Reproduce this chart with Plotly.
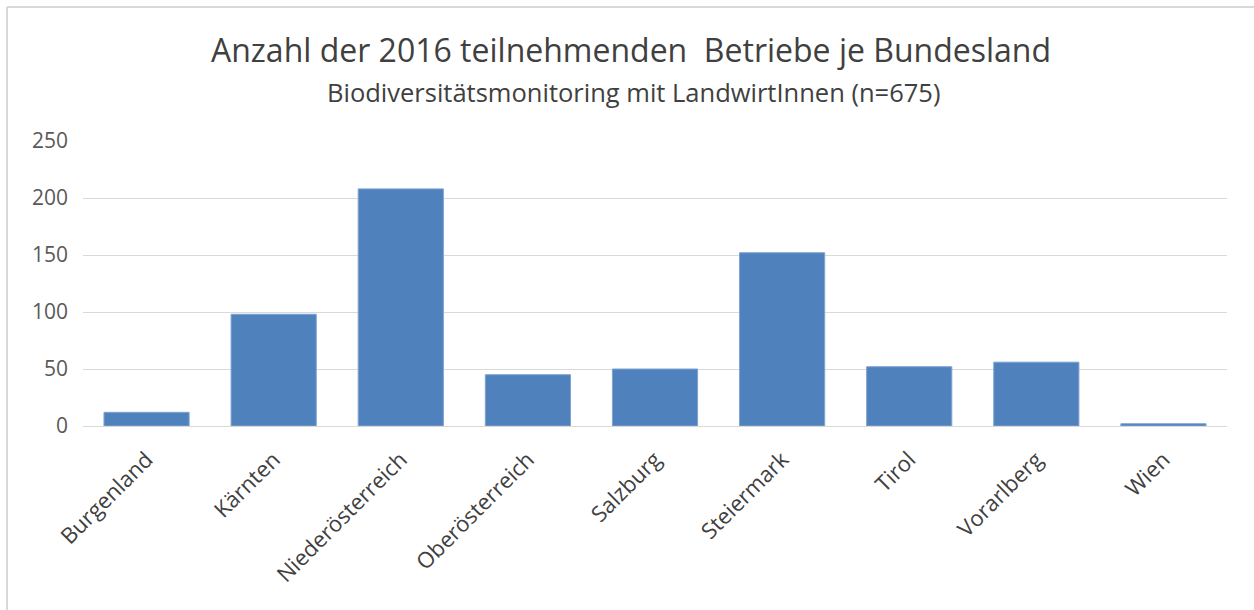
import plotly.graph_objects as go

categories = ["Burgenland", "Kärnten", "Niederösterreich", "Oberösterreich", "Salzburg",
              "Steiermark", "Tirol", "Vorarlberg", "Wien"]
values = [12, 98, 208, 45, 50, 152, 52, 56, 2]
y_ticks = [0, 50, 100, 150, 200, 250]

title_text = "Anzahl der 2016 teilnehmenden  Betriebe je Bundesland"
subtitle_text = "Biodiversitätsmonitoring mit LandwirtInnen (n=675)"

W, H = 1254, 610
L, R, T, B = 83, 27, 141, 184
pw, ph = W - L - R, H - T - B

def px(x):
    return (x - L) / pw

def py(y):
    return (H - B - y) / ph

fig = go.Figure(go.Bar(
    x=categories, y=values,
    marker=dict(color="#4f81bd", line=dict(color="#7ea3d1", width=1)),
))

font_family = "'Open Sans', Lato, sans-serif"

fig.update_layout(
    width=W, height=H,
    margin=dict(l=L, r=R, t=T, b=B),
    paper_bgcolor="white", plot_bgcolor="white",
    bargap=0.33,
    showlegend=False,
    font=dict(family=font_family, color="#595959"),
    xaxis=dict(tickangle=-45, tickfont=dict(size=22, color="#404040"),
               showgrid=False, showline=True, linecolor="#d9d9d9", linewidth=1,
               ticks="", ticklabelstandoff=11),
    yaxis=dict(range=[0, 250], tickvals=y_ticks, tickfont=dict(size=21, color="#595959"),
               showgrid=True, gridcolor="#d9d9d9", gridwidth=1, zeroline=False,
               showline=False, ticks="", ticklen=0, ticklabelstandoff=14),
    annotations=[
        dict(text=title_text, xref="paper", yref="paper", x=px(631), y=py(50),
             xanchor="center", yanchor="middle", showarrow=False,
             font=dict(size=32, color="#404040", family=font_family)),
        dict(text=subtitle_text, xref="paper", yref="paper", x=px(633), y=py(92),
             xanchor="center", yanchor="middle", showarrow=False,
             font=dict(size=25.5, color="#404040", family=font_family)),
    ],
    shapes=[
        dict(type="line", xref="paper", yref="paper", x0=px(7), x1=px(1254), y0=py(7), y1=py(7),
             line=dict(color="#d9d9d9", width=2)),
        dict(type="line", xref="paper", yref="paper", x0=px(7), x1=px(7), y0=py(7), y1=py(610),
             line=dict(color="#d9d9d9", width=2)),
    ],
)

fig.write_html("out.html", config={"displayModeBar": False},
               post_script="document.body.style.margin='0';")
